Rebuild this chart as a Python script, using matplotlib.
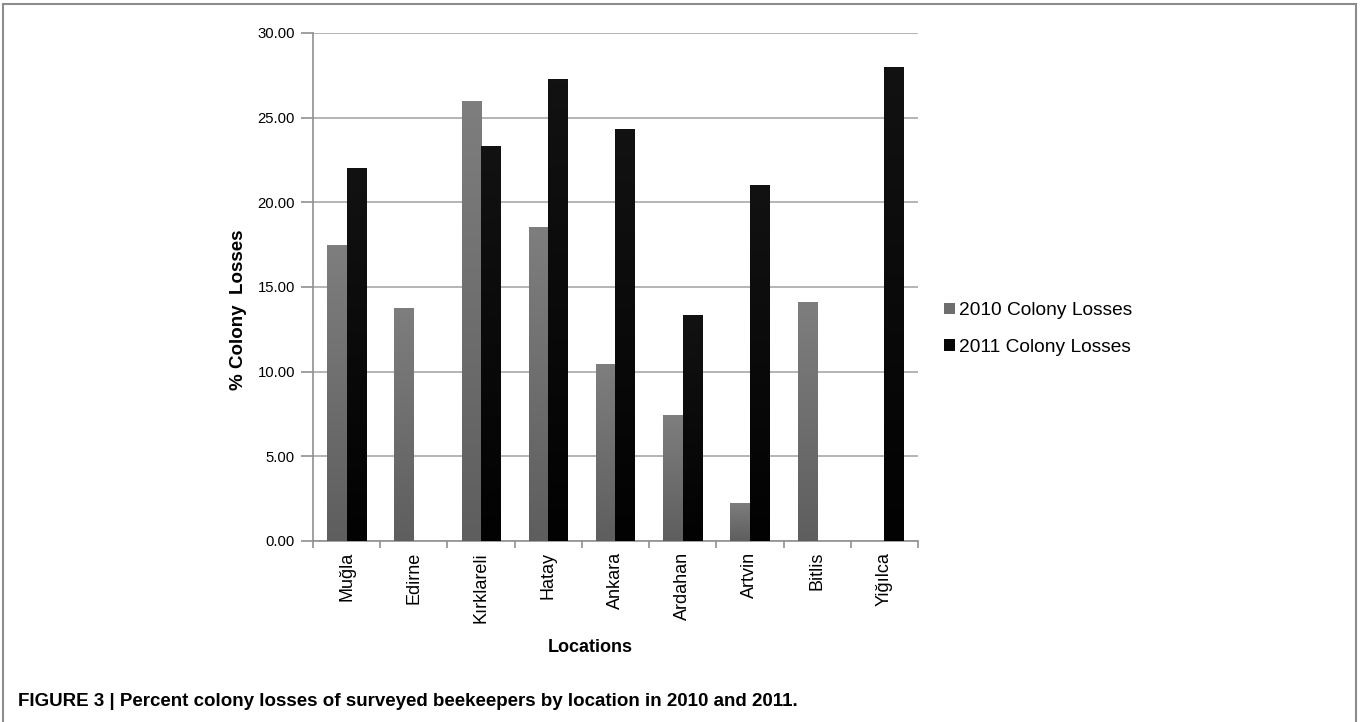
import numpy as np
import matplotlib
matplotlib.use("Agg")
import matplotlib.pyplot as plt
from matplotlib.colors import LinearSegmentedColormap
from matplotlib.patches import Patch, Rectangle

plt.rcParams['font.family'] = ['Liberation Sans', 'DejaVu Sans']

locations = ["Muğla", "Edirne", "Kırklareli", "Hatay", "Ankara",
             "Ardahan", "Artvin", "Bitlis", "Yiğılca"]
losses_2010 = [17.48, 13.76, 26.0, 18.57, 10.43, 7.44, 2.26, 14.1, 0.0]
losses_2011 = [22.0, 0.0, 23.33, 27.31, 24.33, 13.33, 21.0, 0.0, 28.0]
yticks = [0, 5, 10, 15, 20, 25, 30]

fig = plt.figure(figsize=(13.6, 7.22), dpi=100)
ax = fig.add_axes([313/1360, 1-541/722, 605/1360, 508/722])

x = np.arange(len(locations))
w = 0.29
b1 = ax.bar(x - w/2, losses_2010, w, color="#6c6c6c", zorder=2)
b2 = ax.bar(x + w/2, losses_2011, w, color="#080808", zorder=2)

# vertical shading inside each bar
cm_gray = LinearSegmentedColormap.from_list("g", ["#7e7e7e", "#5e5e5e"])
cm_black = LinearSegmentedColormap.from_list("k", ["#121212", "#020202"])
grad = np.linspace(0, 1, 128)[:, None]
for bars, cm in ((b1, cm_gray), (b2, cm_black)):
    for r in bars:
        h = r.get_height()
        if h <= 0:
            continue
        x0 = r.get_x()
        im = ax.imshow(grad, extent=[x0, x0 + r.get_width(), 0, h],
                       aspect="auto", cmap=cm, zorder=3, interpolation="bilinear")
        im.set_clip_path(r)

ax.set_xlim(-0.5, len(locations) - 0.5)
ax.set_ylim(0, 30)
ax.set_yticks(yticks)
ax.set_yticklabels([f"{v:.2f}" for v in yticks], fontsize=10.7)
ax.yaxis.grid(True, color="#a8a8a8", linewidth=1.2, zorder=0)
ax.set_axisbelow(True)

ax.set_xticks(x)
ax.set_xticklabels(locations, rotation=90, fontsize=13)
ax.set_xticks(np.arange(len(locations) + 1) - 0.5, minor=True)
ax.tick_params(axis="x", which="major", length=0, pad=8)
ax.tick_params(axis="x", which="minor", length=5, color="#909090", width=1.2)
ax.tick_params(axis="y", length=9, color="#909090", width=1.2, pad=4)

for s in ("top", "right"):
    ax.spines[s].set_visible(False)
for s in ("left", "bottom"):
    ax.spines[s].set_color("#909090")
    ax.spines[s].set_linewidth(1.2)

ax.set_ylabel("% Colony  Losses", fontsize=13.5, fontweight="bold")
ax.yaxis.set_label_coords((247 - 313) / 605, 1 - (310 - 33) / 508)
fig.text(590/1360, 1-648/722, "Locations", fontsize=13, fontweight="bold",
         ha="center", va="center")

handles = [Patch(facecolor="#6e6e6e"), Patch(facecolor="#080808")]
fig.legend(handles, ["2010 Colony Losses", "2011 Colony Losses"],
           loc="center left", bbox_to_anchor=(944/1360, 1-329/722),
           frameon=False, fontsize=13.8, handlelength=0.55, handleheight=0.55,
           handletextpad=0.25, labelspacing=1.0, borderpad=0, borderaxespad=0)

fig.text(18/1360, 1-702/722,
         "FIGURE 3 | Percent colony losses of surveyed beekeepers by location in 2010 and 2011.",
         fontsize=13.5, fontweight="bold", ha="left", va="center")

fig.patches.append(Rectangle((3/1360, -0.02), 1353/1360, 1-4/722 + 0.02,
                             transform=fig.transFigure, fill=False,
                             edgecolor="#8c8c8c", linewidth=1.5))

fig.savefig("out.png", dpi=100)
